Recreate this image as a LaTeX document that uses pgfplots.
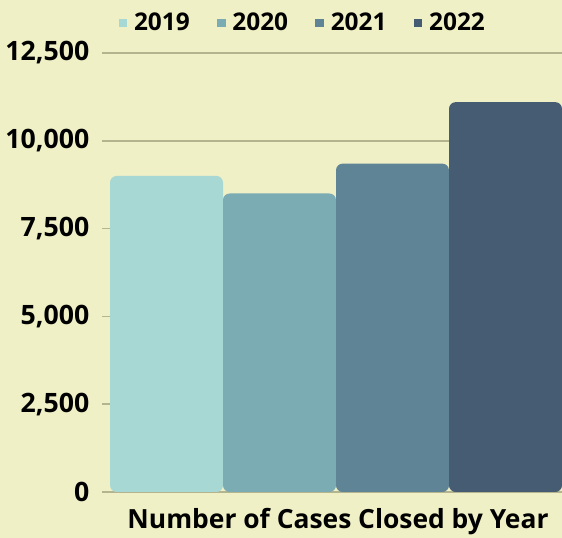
\documentclass[border=0pt]{standalone}
\usepackage{pgfplots}
\pgfplotsset{compat=1.18}
\usepackage{fontspec}
\setmainfont{Open Sans}
\definecolor{bg}{HTML}{F0F0C6}
\definecolor{gridc}{HTML}{B4B48E}
\definecolor{cA}{HTML}{A8D8D4}
\definecolor{cB}{HTML}{7BACB4}
\definecolor{cC}{HTML}{5E8496}
\definecolor{cD}{HTML}{465C72}
\begin{document}
\begin{tikzpicture}[font=\bfseries]
\path[use as bounding box, fill=bg] (-76.5pt,-34.5pt) rectangle (345pt,369pt);
\begin{axis}[
  at={(0pt,0pt)}, anchor=south west,
  scale only axis, width=345pt, height=329.25pt,
  xmin=-0.571, xmax=3.5, ymin=0, ymax=12500,
  ytick={0,2500,5000,7500,10000,12500},
  scaled y ticks=false,
  xtick=\empty,
  axis line style={draw=none},
  major tick style={draw=none},
  ymajorgrids, grid style={gridc, line width=1.1pt},
  yticklabel style={font=\fontsize{20}{24}\selectfont\bfseries, xshift=-6pt},
  /pgf/number format/.cd, fixed, 1000 sep={,}, assume math mode=true,
  /pgfplots/.cd,
  xlabel={Number of Cases Closed by Year},
  xlabel style={font=\fontsize{19.8}{23}\selectfont\bfseries, at={(axis description cs:0.5,0)}, anchor=north, yshift=-8.5pt, xshift=4.5pt},
  every axis plot/.append style={ybar, bar width=1, bar shift=0pt, draw=none, rounded corners=5pt},
  legend columns=4,
  legend style={draw=none, fill=none, at={(axis description cs:0.027,1.068)}, anchor=west,
    font=\fontsize{18.3}{22}\selectfont\bfseries,
    /tikz/every odd column/.append style={column sep=3pt},
    /tikz/every even column/.append style={column sep=18.5pt}},
  legend image code/.code={\fill[#1, rounded corners=0pt] (0pt,-3.25pt) rectangle (6.5pt,3.25pt);},
]
\addplot[fill=cA] coordinates {(0,9000)};
\addplot[fill=cB] coordinates {(1,8500)};
\addplot[fill=cC] coordinates {(2,9350)};
\addplot[fill=cD] coordinates {(3,11100)};
\legend{2019,2020,2021,2022}
\end{axis}
\end{tikzpicture}
\end{document}
